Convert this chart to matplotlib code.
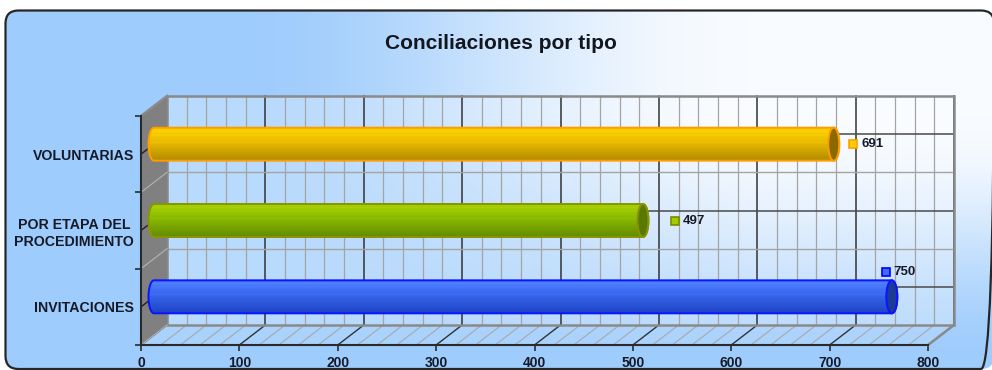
import numpy as np
import matplotlib
matplotlib.use('Agg')
import matplotlib.pyplot as plt
from matplotlib.patches import Polygon, Ellipse, PathPatch, FancyBboxPatch, Rectangle
from matplotlib.path import Path

# ---------------- data ----------------
categories = ['INVITACIONES', 'POR ETAPA DEL\nPROCEDIMIENTO', 'VOLUNTARIAS']
values = [750, 497, 691]
value_labels = ['750', '497', '691']
xticks = [0, 100, 200, 300, 400, 500, 600, 700, 800]
title = 'Conciliaciones por tipo'

# ---------------- style ----------------
body_stops = [
    ['#4f80ff', '#3a68f0', '#1e44c4'],   # blue
    ['#a6d000', '#8cbc00', '#648c00'],   # green
    ['#fad200', '#ecbc00', '#b08a00'],   # orange
]
edge_cols = ['#0a14ff', '#8a9400', '#ff9c00']
face_cols = ['#1c3a96', '#587800', '#8a6a00']
mark_face = ['#3f6cff', '#a0cc00', '#ffd000']
mark_edge = ['#0000ff', '#808800', '#ffa000']
label_off = [(-6, 25, 2), (32, 0, 40), (19, 0, 28)]   # marker dx, dy, text dx in px

FONT = ['Liberation Sans', 'DejaVu Sans']
TXT = '#161a28'
W, H = 992, 370
fig = plt.figure(figsize=(W / 100, H / 100), dpi=100)

# ---------------- background ----------------
bg = fig.add_axes([0, 0, 1, 1], zorder=0)
bg.set_xlim(0, W)
bg.set_ylim(H, 0)
bg.axis('off')
yy, xx = np.mgrid[0:H, 0:W] + 0.5
fx = np.clip((xx - 230) / 520, 0, 1)
gy = np.clip((368 - yy) / 250, 0, 1)
t = fx * gy
t = t * t * (3 - 2 * t)
blue = np.array([158, 204, 252]) / 255
white = np.array([248, 251, 255]) / 255
img = blue + (white - blue) * t[..., None]
border = FancyBboxPatch((5.5, 10.5), 988.5, 358.5, boxstyle='round,pad=0,rounding_size=13',
                        fc='none', ec='#262626', lw=1.6, zorder=3)
bg.add_patch(border)
im = bg.imshow(img, extent=[0, W, H, 0], aspect='auto', interpolation='bilinear', zorder=1)
im.set_clip_path(border)

# ---------------- main axes (front plane) ----------------
L, R, T, B = 141, 928, 116, 345
ax = fig.add_axes([L / W, (H - B) / H, (R - L) / W, (B - T) / H], zorder=2)
ax.set_facecolor('none')
ax.set_xlim(0, 800)
ax.set_ylim(-0.5, 2.5)
ppx = (R - L) / 800.0           # px per x unit
ppy = (B - T) / 3.0             # px per category
DX = 26 / ppx
DY = 20 / ppy
ymin, ymax = -0.5, 2.5
xmax = 800

# back wall
ax.add_patch(Rectangle((DX, ymin + DY), xmax, ymax - ymin, fc='white', alpha=0.28,
                       ec='none', zorder=1, clip_on=False))
for v in np.arange(0, xmax + 1, 20):
    major = v % 100 == 0
    ax.plot([v + DX, v + DX], [ymin + DY, ymax + DY], color='#333333' if major else '#a4a4a4',
            lw=1.1 if major else 0.9, zorder=2, clip_on=False)
    ax.plot([v, v + DX], [ymin, ymin + DY], color='#333333' if major else '#a8a8a8',
            lw=1.0 if major else 0.8, zorder=2, clip_on=False)
for i in range(len(categories)):
    ax.plot([DX, xmax + DX], [i + DY, i + DY], color='#4a4a4a', lw=1.1, zorder=2, clip_on=False)
for yb in [0.5, 1.5]:
    ax.plot([DX, xmax + DX], [yb + DY, yb + DY], color='#a4a4a4', lw=1.0, zorder=2, clip_on=False)
ax.add_patch(Rectangle((DX, ymin + DY), xmax, ymax - ymin, fc='none', ec='#8a8a8a', lw=1.8,
                       zorder=3, clip_on=False))
# floor slight tint
ax.add_patch(Polygon([(0, ymin), (xmax, ymin), (xmax + DX, ymin + DY), (DX, ymin + DY)],
                     closed=True, fc='white', alpha=0.12, ec='none', zorder=1, clip_on=False))
ax.plot([xmax, xmax + DX], [ymin, ymin + DY], color='#8a8a8a', lw=1.8, zorder=3, clip_on=False)

# left wall
ax.add_patch(Polygon([(0, ymin), (0, ymax), (DX, ymax + DY), (DX, ymin + DY)], closed=True,
                     fc='#808080', ec='none', zorder=3, clip_on=False))
for yb in [-0.5, 0.5, 1.5]:
    ax.plot([0, DX], [yb, yb + DY], color='#b4b4b4', lw=0.8, zorder=3.5, clip_on=False)
ax.plot([0, DX], [ymax, ymax + DY], color='#8a8a8a', lw=1.8, zorder=3.5, clip_on=False)
for i in range(len(categories)):
    ax.plot([0, DX * 0.25], [i, i + DY * 0.25], color='#222222', lw=1.0, zorder=3.5, clip_on=False)

# spines / ticks
for s in ['top', 'right']:
    ax.spines[s].set_visible(False)
for s in ['left', 'bottom']:
    ax.spines[s].set_color('#2a2a2a')
    ax.spines[s].set_linewidth(1.5)
    ax.spines[s].set_zorder(4)
ax.set_xticks(xticks)
ax.set_xticklabels([str(x) for x in xticks], fontfamily=FONT, fontweight='bold', fontsize=10, color=TXT)
ax.tick_params(axis='x', length=4, width=1.2, color='#2a2a2a', pad=4)
ax.set_yticks(range(len(categories)))
ax.set_yticklabels(categories, fontfamily=FONT, fontweight='bold', fontsize=10.2, color=TXT,
                   linespacing=1.3, multialignment='center')
ax.set_yticks([-0.5, 0.5, 1.5, 2.5], minor=True)
ax.tick_params(axis='y', which='major', length=0, pad=5)
ax.tick_params(axis='y', which='minor', length=4, width=1.2, color='#2a2a2a')

# ---------------- cylinders ----------------
h = 33 / ppy
rx = 5.5 / ppx
for i, (val, stops) in enumerate(zip(values, body_stops)):
    yc = i + DY / 2
    x0 = DX / 2
    x1 = val + DX / 2
    th = np.linspace(np.pi / 2, 3 * np.pi / 2, 50)
    left = np.column_stack([x0 + rx * np.cos(th), yc + h / 2 * np.sin(th)])
    th2 = np.linspace(-np.pi / 2, np.pi / 2, 50)
    right = np.column_stack([x1 + rx * np.cos(th2), yc + h / 2 * np.sin(th2)])
    verts = np.vstack([left, right, left[:1]])
    shape = PathPatch(Path(verts), fc='none', ec=edge_cols[i], lw=1.4, zorder=6, clip_on=False)
    n = 64
    s = np.linspace(0, 1, n)
    c0 = np.array(matplotlib.colors.to_rgb(stops[0]))
    c1 = np.array(matplotlib.colors.to_rgb(stops[1]))
    c2 = np.array(matplotlib.colors.to_rgb(stops[2]))
    grad = np.where(s[:, None] < 0.4, c0 + (c1 - c0) * (s[:, None] / 0.4),
                    c1 + (c2 - c1) * ((s[:, None] - 0.4) / 0.6))
    grad = grad.copy()
    for k in [0.12, 0.22, 0.45]:
        idx = int(k * (n - 1))
        grad[idx] = np.clip(grad[idx] + 0.06, 0, 1)
    gim = ax.imshow(grad[:, None, :], extent=[x0 - rx, x1 + rx, yc - h / 2, yc + h / 2],
                    origin='upper', aspect='auto', interpolation='bilinear', zorder=5)
    ax.add_patch(shape)
    gim.set_clip_path(shape)
    ax.add_patch(Ellipse((x1, yc), 2 * rx, h, fc=face_cols[i], ec=edge_cols[i], lw=1.4,
                         zorder=7, clip_on=False))
    mdx, mdy, tdx = label_off[i]
    ax.plot([x1 + mdx / ppx], [yc + mdy / ppy], marker='s', ms=5.5, mfc=mark_face[i],
            mec=mark_edge[i], mew=1.2, zorder=8, clip_on=False)
    ax.text(x1 + tdx / ppx, yc + mdy / ppy, value_labels[i], ha='left', va='center',
            fontfamily=FONT, fontweight='bold', fontsize=9.5, color=TXT, zorder=8)

ax.set_xlim(0, 800)
ax.set_ylim(-0.5, 2.5)

fig.text(501 / W, 1 - 43.5 / H, title, ha='center', va='center', fontfamily=FONT,
         fontweight='bold', fontsize=15, color='#14161e', zorder=10)

fig.savefig('out.png', dpi=100)
